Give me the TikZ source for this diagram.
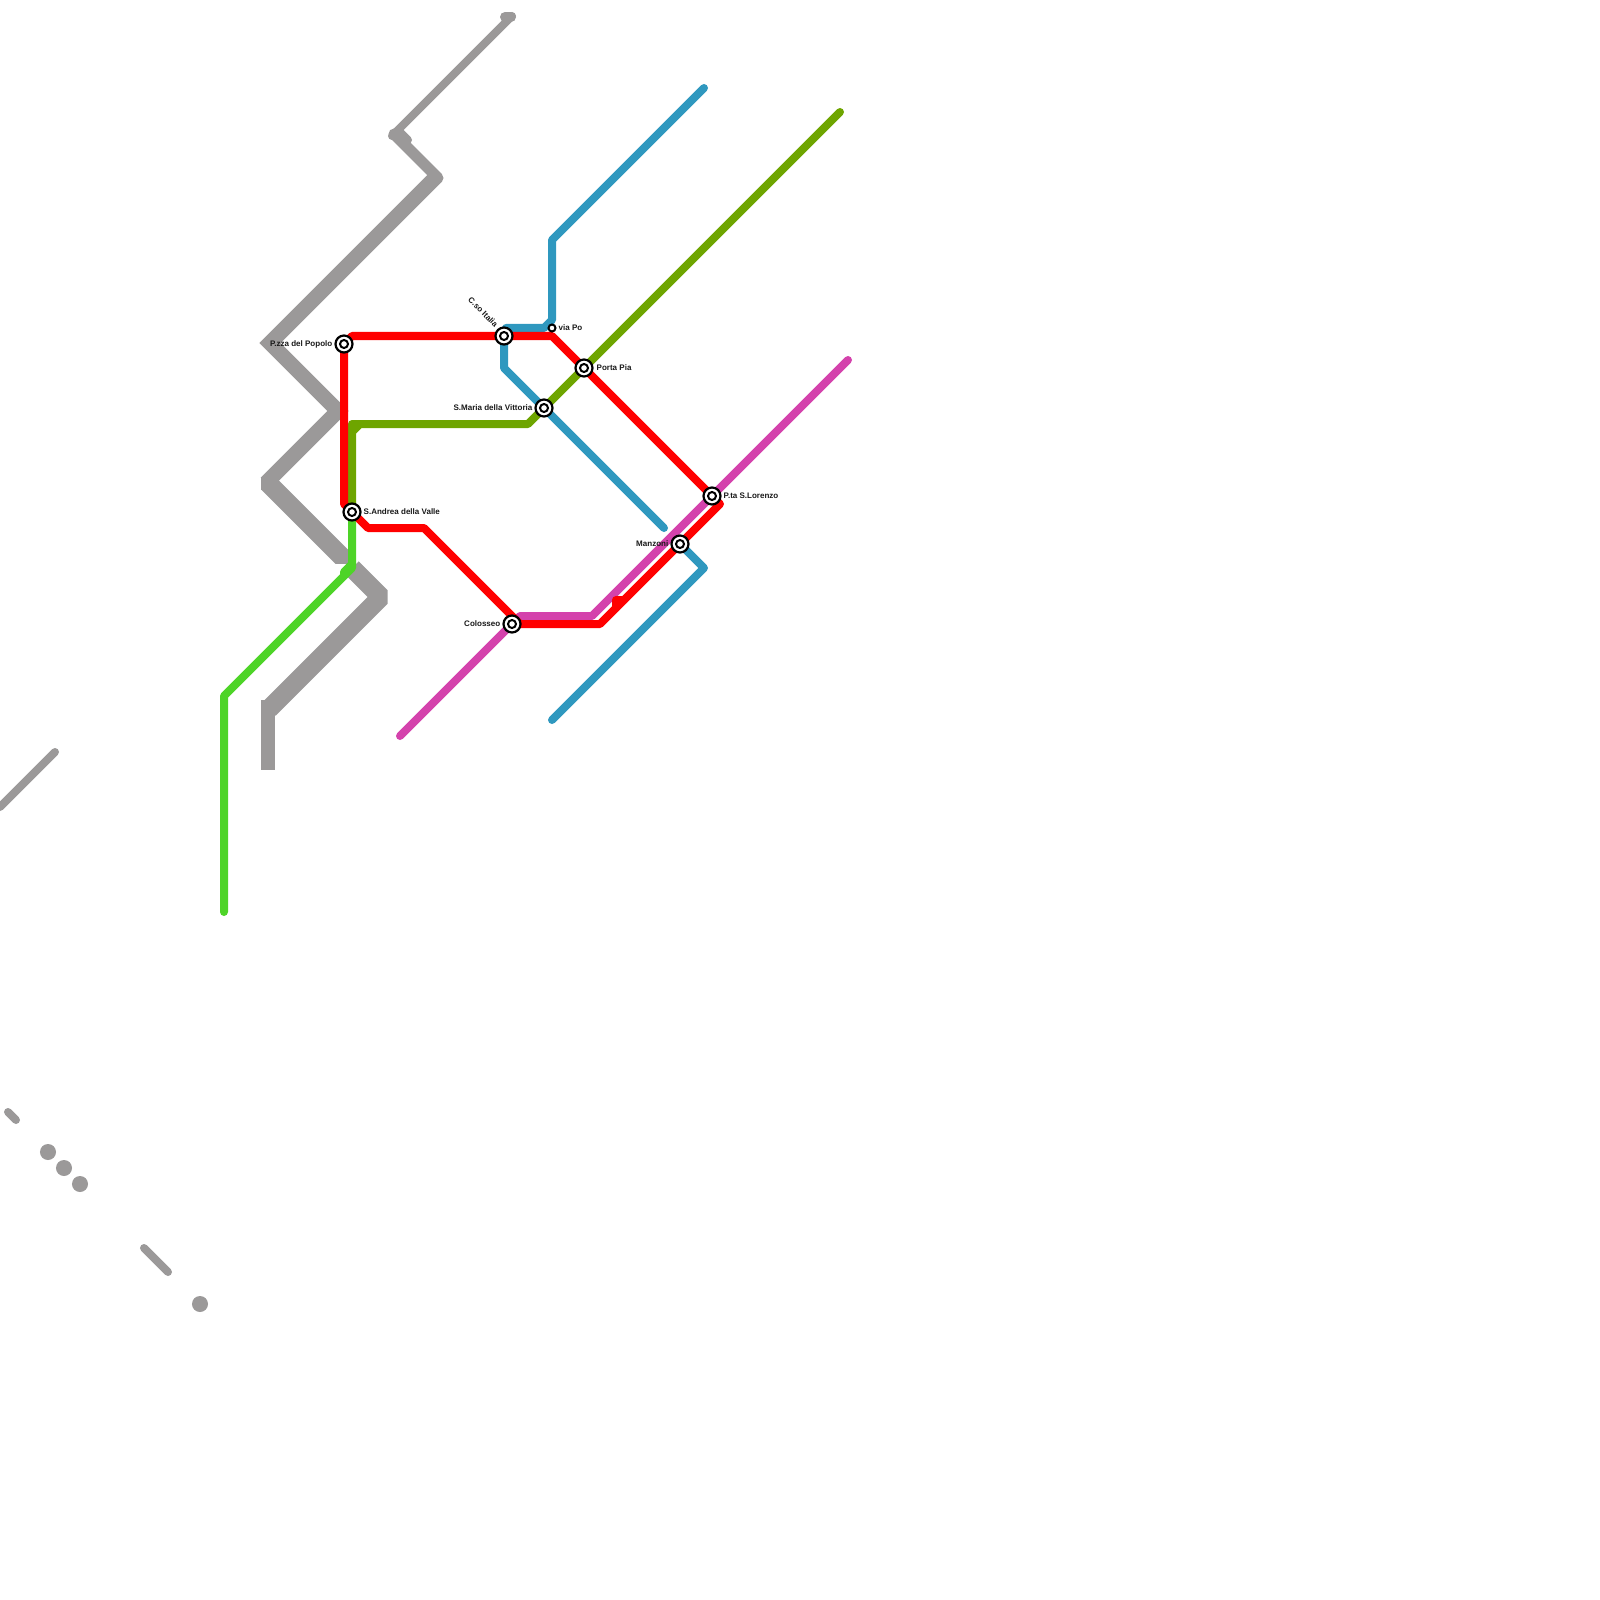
\documentclass[tikz,border=0pt]{standalone}
\usepackage{fontspec}
\setmainfont{Liberation Sans}
\usepackage{xcolor}
\usetikzlibrary{backgrounds}
\definecolor{linered}{RGB}{255,0,0}
\definecolor{lineblue}{RGB}{47,152,191}
\definecolor{lineolive}{RGB}{110,165,0}
\definecolor{linelime}{RGB}{78,212,40}
\definecolor{linepink}{RGB}{212,66,172}
\definecolor{linegray}{RGB}{155,153,153}
\tikzset{
    metroline/.style={
        line width=0.08cm,
        line cap=round,
        line join=round
    },
    redline/.style={metroline,linered},
    blueline/.style={metroline,lineblue},
    oliveline/.style={metroline,lineolive},
    limeline/.style={metroline,linelime},
    pinkline/.style={metroline,linepink},
    grayline/.style={metroline,linegray},
    grayband/.style={
        linegray,
        line cap=butt,
        line join=bevel
    },
    graydot/.style={
        circle,
        fill=linegray,
        minimum size=0.16cm,
        inner sep=0pt
    },
    station/.style={
        circle,
        draw=black,
        fill=white,
        line width=0.022cm,
        minimum size=0.17cm,
        inner sep=0pt,
        path picture={\draw[line width=0.02cm] (path picture bounding box.center) circle (0.04cm);}
    },
    smallstation/.style={
        circle,
        draw=black,
        fill=white,
        line width=0.02cm,
        minimum size=0.07cm,
        inner sep=0pt
    },
    stationlabel/.style={
        font=\fontsize{2.28}{3}\selectfont\bfseries,
        inner sep=0pt,
        text=black!90
    }
}
\begin{document}
\begin{tikzpicture}[x=0.01cm,y=-0.01cm]
    \useasboundingbox (0,0) rectangle (1600,1600);

    % Stations
    \node[station] (popolo) at (344,344) {};
    \node[station] (sandrea) at (352,512) {};
    \node[station] (corsoitalia) at (504,336) {};
    \node[smallstation] (viapo) at (552,328) {};
    \node[station] (portapia) at (584,368) {};
    \node[station] (smaria) at (544,408) {};
    \node[station] (colosseo) at (512,624) {};
    \node[station] (manzoni) at (680,544) {};
    \node[station] (lorenzo) at (712,496) {};

    % Labels
    \node[stationlabel,anchor=east] (popololabel) at (333,344) {P.zza del Popolo};
    \node[stationlabel,anchor=west] (sandrealabel) at (363,512) {S.Andrea della Valle};
    \node[stationlabel,anchor=east,rotate=-45] (corsolabel) at (497,326) {C.so Italia};
    \node[stationlabel,anchor=west] (viapolabel) at (558,328) {via Po};
    \node[stationlabel,anchor=west] (portalabel) at (596,368) {Porta Pia};
    \node[stationlabel,anchor=east] (smarialabel) at (533,408) {S.Maria della Vittoria};
    \node[stationlabel,anchor=east] (colosseolabel) at (501,624) {Colosseo};
    \node[stationlabel,anchor=east] (manzonilabel) at (669,544) {Manzoni};
    \node[stationlabel,anchor=west] (lorenzolabel) at (723,496) {P.ta S.Lorenzo};

    % Free line ends
    \coordinate (blueN) at (704,88);
    \coordinate (blueS) at (552,720);
    \coordinate (blueM) at (664,528);
    \coordinate (oliveE) at (840,112);
    \coordinate (limeS) at (224,912);
    \coordinate (pinkW) at (400,736);
    \coordinate (pinkE) at (848,360);

    \begin{scope}[on background layer]
        % Gray lines
        \draw[grayline] (512,16) -- (392,136);
        \draw[grayline,line width=0.1cm] (505,17) -- (511,17);
        \draw[grayline] (400,132) -- (408,140);
        \draw[grayband,line width=0.15cm,line join=miter] (436,177) -- (270,343) -- (338,411) -- (266,483);
        \draw[grayband,line width=0.11cm,line cap=round] (394,134) -- (438,178);
        \draw[grayband,line width=0.1cm] (266,477) -- (266,490);
        \begin{scope}
            \clip (0,0) rectangle (352,563);
            \draw[grayband,line width=0.19cm] (268,483) -- (352,567);
        \end{scope}
        \draw[grayband,line width=0.19cm] (352,568) -- (381,597) -- (269,709);
        \draw[grayband,line width=0.14cm] (268,700) -- (268,770);
        \draw[grayline] (0,807) -- (55,752);
        \draw[grayline] (8,1112) -- (16,1120);
        \draw[grayline] (144,1248) -- (168,1272);
        \foreach \i/\x/\y in {1/48/1152,2/64/1168,3/80/1184,4/200/1304}
            \node[graydot] (dot\i) at (\x,\y) {};

        % Metro lines
        \draw[limeline] (sandrea.center) -- (352,568) -- (224,696) -- (limeS);
        \draw[limeline] (344,576) -- (344,572) -- (352,564);
        \draw[oliveline] (sandrea.center) -- (352,432) -- (360,424) -- (528,424) -- (smaria.center) -- (portapia.center) -- (oliveE);
        \draw[oliveline] (352,432) -- (352,424) -- (360,424);
        \draw[blueline] (blueN) -- (552,240) -- (552,320) -- (544,328) -- (506,328) -- (corsoitalia.center) -- (504,368) -- (smaria.center) -- (blueM);
        \draw[blueline] (blueS) -- (704,568) -- (manzoni.center);
        \draw[pinkline] (pinkW) -- (colosseo.center) -- (520,616) -- (592,616) -- (lorenzo.center) -- (pinkE);
        \draw[redline] (popolo.center) -- (352,336) -- (corsoitalia.center) -- (552,336) -- (portapia.center) -- (lorenzo.center) -- (720,504) -- (manzoni.center) -- (600,624) -- (colosseo.center);
        \draw[redline] (popolo.center) -- (344,504) -- (sandrea.center) -- (368,528) -- (424,528) -- (520,624) -- (colosseo.center);
        \draw[redline] (624,600) -- (616,600) -- (616,608);
    \end{scope}
\end{tikzpicture}
\end{document}
